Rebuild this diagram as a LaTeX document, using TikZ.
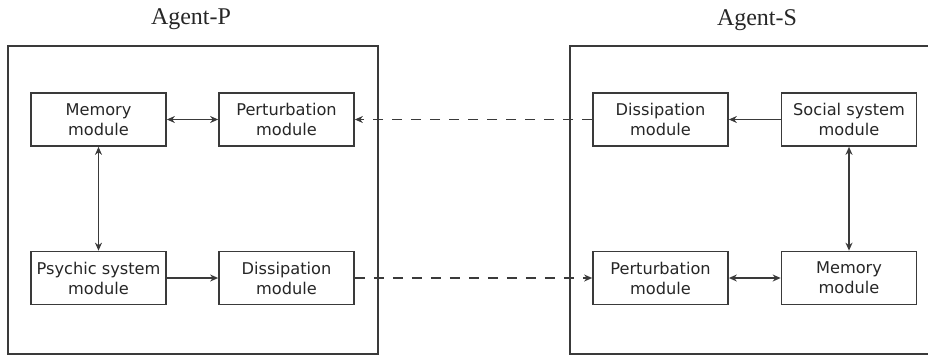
\documentclass[tikz,border=0pt]{standalone}
\usepackage{fontspec}
\setmainfont{Liberation Serif}
\setsansfont{DejaVu Sans}
\usetikzlibrary{arrows.meta}
\definecolor{linegray}{HTML}{3A3A3A}

\begin{document}
\begin{tikzpicture}[x=1pt, y=-1pt, >={Stealth[length=8pt, width=7pt]},
    module/.style={draw=linegray, line width=1.7pt, minimum width=135pt,
      minimum height=53pt, inner sep=0pt, align=center, text=black!85,
      font=\sffamily\fontsize{16.2}{20}\selectfont},
    frame/.style={draw=linegray, line width=1.5pt},
    link/.style={draw=linegray, line width=1.6pt}]
  \useasboundingbox (0,0) rectangle (928,356);

  % agent frames
  \begin{scope}
    \clip (0,0) rectangle (928,356);
    \draw[frame] (8,46) rectangle (378,354);
    \draw[frame] (570,46) rectangle (940,354);
  \end{scope}
  \node[font=\fontsize{24}{26}\selectfont, text=black!85] (titleP) at (191,19) {Agent-P};
  \node[font=\fontsize{24}{26}\selectfont, text=black!85] (titleS) at (757,20) {Agent-S};

  % Agent-P modules
  \node[module] (memP)  at (98.5,119.5) {Memory\\module};
  \node[module] (pertP) at (286.5,119.5) {Perturbation\\module};
  \node[module] (psyP)  at (98.5,278) {Psychic system\\module};
  \node[module] (dissP) at (286.5,278) {Dissipation\\module};

  % Agent-S modules
  \node[module] (dissS) at (660.5,119.5) {Dissipation\\module};
  \node[module] (socS)  at (849,119.5) {Social system\\module};
  \node[module] (pertS) at (660.5,278) {Perturbation\\module};
  \node[module] (memS)  at (849,278) {Memory\\module};

  % links inside the agents
  \draw[link, <->] (memP) -- (pertP);
  \draw[link, <->] (memP) -- (psyP);
  \draw[link, ->] (psyP) -- (dissP);
  \draw[link, ->] (socS) -- (dissS);
  \draw[link, <->] (socS) -- (memS);
  \draw[link, <->] (pertS) -- (memS);

  % links between the agents
  \draw[link, dash pattern=on 10pt off 9pt, ->] (dissS) -- (pertP);
  \draw[link, dash pattern=on 10pt off 9pt, ->] (dissP) -- (pertS);
\end{tikzpicture}
\end{document}
